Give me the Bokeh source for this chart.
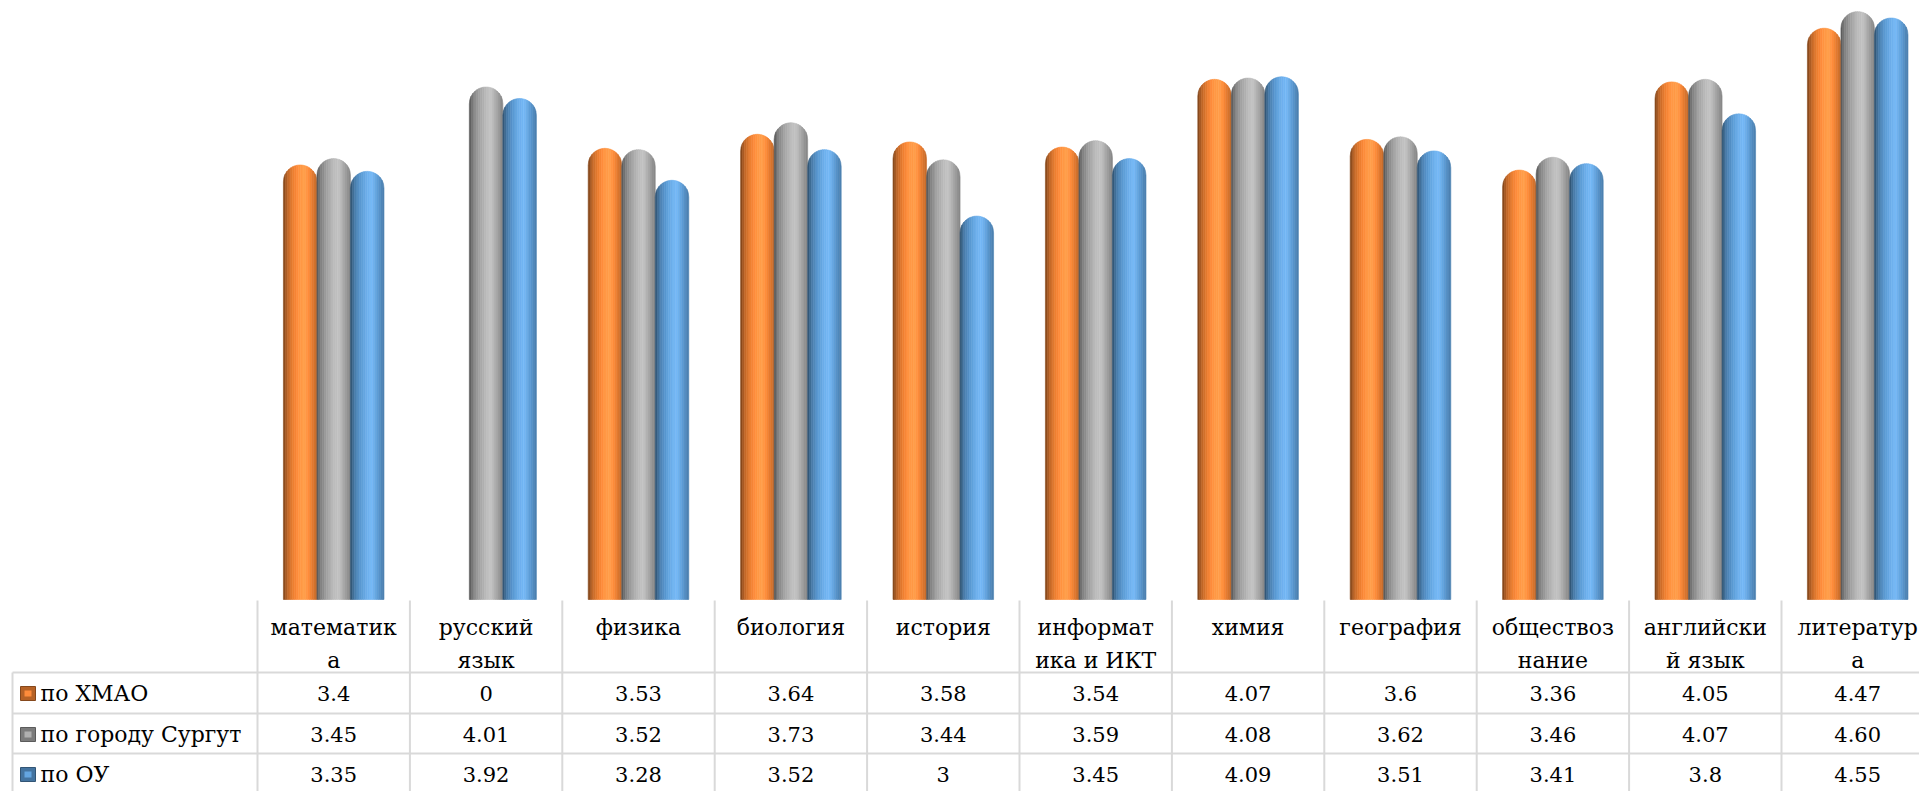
import math
from bokeh.plotting import figure
from bokeh.models import ColumnDataSource, Range1d
from bokeh.core.properties import value
from bokeh.embed import file_html
from bokeh.resources import INLINE

# ---------------- data ----------------
categories = ["математика", "русский язык", "физика", "биология", "история",
              "информатика и ИКТ", "химия", "география", "обществознание",
              "английский язык", "литература"]
header_labels = ["математик\nа", "русский\nязык", "физика", "биология", "история",
                 "информат\nика и ИКТ", "химия", "география", "обществоз\nнание",
                 "английски\nй язык", "литератур\nа"]
series_names = ["по ХМАО", "по городу Сургут", "по ОУ"]
hmao = ["3.4", "0", "3.53", "3.64", "3.58", "3.54", "4.07", "3.6", "3.36", "4.05", "4.47"]
surgut = ["3.45", "4.01", "3.52", "3.73", "3.44", "3.59", "4.08", "3.62", "3.46", "4.07", "4.60"]
ou = ["3.35", "3.92", "3.28", "3.52", "3", "3.45", "4.09", "3.51", "3.41", "3.8", "4.55"]
series_values = [hmao, surgut, ou]
series_colors = [(242, 130, 50), (165, 165, 165), (91, 155, 213)]

# ---------------- layout ----------------
W, H = 1919, 791
COLW = 152.4
UNIT = 127.8
X0_REF = 257
Y0_REF = 599


def X(px):
    return (px - X0_REF) / COLW


def Y(py):
    return (Y0_REF - py) / UNIT


p = figure(width=W, height=H, output_backend="svg", toolbar_location=None,
           x_range=Range1d(X(0), X(W)), y_range=Range1d(Y(H), Y(0)),
           min_border=0)
p.axis.visible = False
p.grid.visible = False
p.outline_line_color = None
p.background_fill_color = "white"

# ---------------- bars: shaded cylinders with round tops ----------------
BW = 0.22
RX = BW / 2
RY = RX * COLW / UNIT
NSTRIP = 18
prof_u = [0.0, 0.12, 0.3, 0.5, 0.65, 0.8, 1.0]
prof_f = [0.50, 0.78, 0.98, 1.10, 1.14, 1.02, 0.80]


def factor(u):
    for j in range(len(prof_u) - 1):
        if prof_u[j] <= u <= prof_u[j + 1]:
            t = (u - prof_u[j]) / (prof_u[j + 1] - prof_u[j])
            return prof_f[j] + t * (prof_f[j + 1] - prof_f[j])
    return 1.0


def shade(rgb, f):
    if f <= 1:
        c = [int(round(v * f)) for v in rgb]
    else:
        c = [int(round(min(255, v * f + (255 - v) * (f - 1) * 0.6))) for v in rgb]
    return "#%02x%02x%02x" % tuple(min(255, max(0, v)) for v in c)


xs, ys, cols = [], [], []
for s, vals in enumerate(series_values):
    for i, sv in enumerate(vals):
        v = float(sv)
        if v <= 0:
            continue
        cx = i + 0.5 + (s - 1) * BW
        for k in range(NSTRIP):
            xa = cx - RX + BW * k / NSTRIP
            xb = cx - RX + BW * (k + 1) / NSTRIP
            px, py = [xa], [0.0]
            for m in range(5):
                xx = xa + (xb - xa) * m / 4
                d = (xx - cx) / RX
                py.append(v - RY + RY * math.sqrt(max(0.0, 1 - d * d)))
                px.append(xx)
            px.append(xb)
            py.append(0.0)
            xs.append(px)
            ys.append(py)
            cols.append(shade(series_colors[s], factor((k + 0.5) / NSTRIP)))

bars = ColumnDataSource(dict(xs=xs, ys=ys, color=cols))
p.patches("xs", "ys", source=bars, fill_color="color", line_color="color", line_width=0.6)

# ---------------- data table ----------------
GRID = "#d9d9d9"
ncat = len(categories)
row_lines = [672, 713, 753]
seg_x0, seg_y0, seg_x1, seg_y1 = [], [], [], []
for ry in row_lines:
    seg_x0.append(X(12)); seg_x1.append(X(W + 20))
    seg_y0.append(Y(ry)); seg_y1.append(Y(ry))
for i in range(ncat + 1):
    seg_x0.append(i); seg_x1.append(i)
    seg_y0.append(Y(600)); seg_y1.append(Y(H + 20))
seg_x0.append(X(12)); seg_x1.append(X(12))
seg_y0.append(Y(672)); seg_y1.append(Y(H + 20))
p.segment(seg_x0, seg_y0, seg_x1, seg_y1, line_color=GRID, line_width=2)

FONT = value("DejaVu Serif")
FS_TXT = "22px"
FS_NUM = "21px"

l1x, l1t, l2x, l2t = [], [], [], []
for i, lab in enumerate(header_labels):
    parts = lab.split("\n")
    l1x.append(i + 0.5); l1t.append(parts[0])
    if len(parts) > 1:
        l2x.append(i + 0.5); l2t.append(parts[1])
p.text(l1x, [Y(627)] * len(l1x), text=l1t, text_font=FONT, text_font_size=FS_TXT,
       text_align="center", text_baseline="middle", text_color="black")
p.text(l2x, [Y(660)] * len(l2x), text=l2t, text_font=FONT, text_font_size=FS_TXT,
       text_align="center", text_baseline="middle", text_color="black")

row_centers = [693, 734, 774]
for s, vals in enumerate(series_values):
    yc = Y(row_centers[s])
    p.text([i + 0.5 for i in range(ncat)], [yc] * ncat, text=vals, text_font=FONT,
           text_font_size=FS_NUM, text_align="center", text_baseline="middle", text_color="black")
    base = series_colors[s]
    p.rect([X(27.5)], [yc], width=15, height=14, width_units="screen", height_units="screen",
           fill_color=shade(base, 0.75), line_color=shade(base, 0.55), line_width=1)
    p.rect([X(27.5)], [yc], width=7, height=6, width_units="screen", height_units="screen",
           fill_color=shade(base, 1.05), line_color=None)
    p.text([X(40)], [yc], text=[series_names[s]], text_font=FONT, text_font_size=FS_TXT,
           text_align="left", text_baseline="middle", text_color="black")

open("out.html", "w").write(file_html(p, INLINE))
